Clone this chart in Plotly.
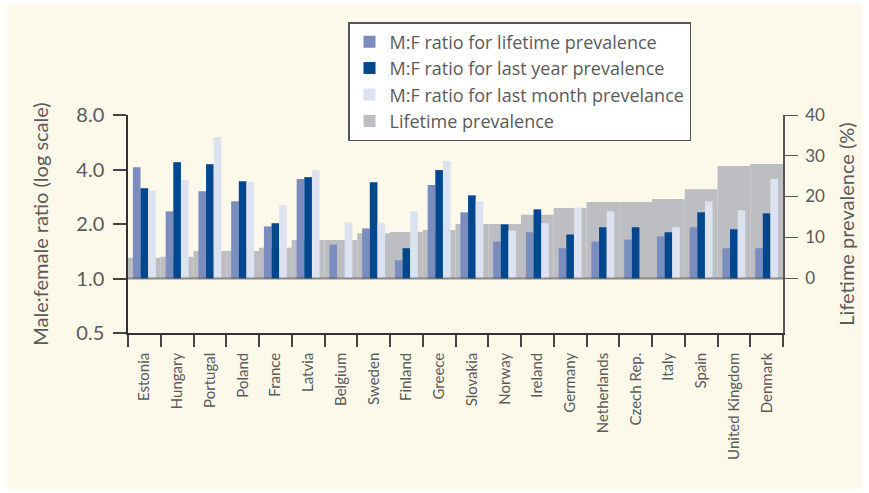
import plotly.graph_objects as go

countries = ['Estonia', 'Hungary', 'Portugal', 'Poland', 'France', 'Latvia',
             'Belgium', 'Sweden', 'Finland', 'Greece', 'Slovakia', 'Norway',
             'Ireland', 'Germany', 'Netherlands', 'Czech Rep.', 'Italy', 'Spain',
             'United Kingdom', 'Denmark']

# M:F ratios (log scale axis)
ratio_lifetime = [4.12, 2.35, 3.03, 2.67, 1.94, 3.54, 1.54, 1.89, 1.26, 3.28,
                  2.32, 1.60, 1.80, 1.47, 1.60, 1.64, 1.71, 1.92, 1.47, 1.47]
ratio_last_year = [3.15, 4.39, 4.28, 3.45, 2.02, 3.63, None, 3.40, 1.47, 3.97,
                   2.88, 1.99, 2.41, 1.75, 1.92, 1.92, 1.80, 2.32, 1.87, 2.29]
ratio_last_month = [3.07, 3.49, 6.04, 3.40, 2.54, 3.97, 2.04, 2.02, 2.35, 4.45,
                    2.67, 1.84, 2.02, 2.47, 2.35, None, 1.92, 2.67, 2.38, 3.54]

# lifetime prevalence (%)
prevalence = [5.0, 5.2, 6.6, 6.6, 7.4, 9.3, 9.3, 11.0, 11.3, 11.8,
              13.25, 13.25, 15.5, 17.2, 18.65, 18.65, 19.4, 21.8, 27.5, 28.0]

cream = '#FCF8EA'
txt = '#5a5a5a'
font_family = 'Lato, "Noto Sans", sans-serif'

c_life = '#7A8DBE'
c_year = '#00478D'
c_month = '#DCE2F0'
c_grey = '#BDBEC2'


def above_one(vals):
    # bars are drawn from a base of 1.0 on the log axis
    return [None if v is None else v - 1 for v in vals]


grey_trace = go.Bar(
    x=countries, y=prevalence, name='Lifetime prevalence',
    marker=dict(color=c_grey, line=dict(width=0)),
    width=1, yaxis='y', legendrank=4,
)

life_trace = go.Bar(
    x=countries, y=above_one(ratio_lifetime), base=1,
    name='M:F ratio for lifetime prevalence',
    marker=dict(color=c_life, line=dict(width=0)), yaxis='y2', legendrank=1,
)
year_trace = go.Bar(
    x=countries, y=above_one(ratio_last_year), base=1,
    name='M:F ratio for last year prevalence',
    marker=dict(color=c_year, line=dict(width=0)), yaxis='y2', legendrank=2,
)
month_trace = go.Bar(
    x=countries, y=above_one(ratio_last_month), base=1,
    name='M:F ratio for last month prevelance',
    marker=dict(color=c_month, line=dict(width=0)), yaxis='y2', legendrank=3,
)

# plot area in pixels: x 128..783, y 115..333
L, R, T, B = 128, 86, 115, 160
W, H = 869, 493
pw, ph = W - L - R, H - T - B

layout = go.Layout(
    width=W, height=H,
    margin=dict(l=L, r=R, t=T, b=B, pad=0, autoexpand=False),
    paper_bgcolor='white',
    plot_bgcolor='rgba(0,0,0,0)',
    font=dict(family=font_family, color=txt),
    barmode='group', bargap=0.3, bargroupgap=0,
    showlegend=True,
    legend=dict(
        x=(348 - L) / pw, y=(H - B - 22) / ph, xanchor='left', yanchor='top',
        bgcolor='white', bordercolor='#555555', borderwidth=1.5,
        font=dict(size=18, color=txt, family='"Open Sans", sans-serif'), tracegroupgap=0,
        traceorder='normal', itemsizing='constant',
    ),
    xaxis=dict(
        type='category', range=[-0.5, len(countries) - 0.5], automargin=False,
        showline=True, linecolor='#333333', linewidth=1.5,
        ticks='outside', ticklen=12, tickcolor='#444444', tickwidth=1.5,
        tickson='boundaries', tickangle=-90, ticklabelstandoff=12,
        tickfont=dict(size=15, color=txt), showgrid=False, zeroline=False,
    ),
    yaxis=dict(
        side='right', range=[-55 / 4.075, 40], automargin=False,
        tickvals=[0, 10, 20, 30, 40], ticktext=['0', '10', '20', '30', '40'],
        ticks='outside', ticklen=13, tickcolor='#555555', tickwidth=1.2,
        showline=True, linecolor='#555555', linewidth=1.5,
        tickfont=dict(size=17, color=txt), ticklabelstandoff=4,
        title=dict(text='Lifetime prevalence (%)', font=dict(size=20, color=txt), standoff=16),
        showgrid=False, zeroline=False,
    ),
    yaxis2=dict(
        type='log', overlaying='y', side='left', automargin=False,
        range=[-0.30103, 0.90309],
        tickvals=[0.5, 1, 2, 4, 8], ticktext=['0.5', '1.0', '2.0', '4.0', '8.0'],
        ticks='outside', ticklen=13, tickcolor='#444444', tickwidth=1.5,
        showline=True, linecolor='#333333', linewidth=1.5,
        tickfont=dict(size=20, color=txt), ticklabelstandoff=5,
        title=dict(text='Male:female ratio (log scale)', font=dict(size=20, color=txt), standoff=22),
        showgrid=False, zeroline=False,
    ),
    shapes=[
        # cream panel with a thin white frame
        dict(type='rect', xref='paper', yref='paper', layer='below',
             x0=(7 - L) / pw, x1=(862 - L) / pw,
             y0=(H - B - 489) / ph, y1=(H - B - 4) / ph,
             fillcolor=cream, line=dict(width=0)),
        # reference line at ratio 1.0
        dict(type='line', xref='paper', yref='y2', x0=0, x1=1, y0=1, y1=1,
             line=dict(color='rgba(70,70,70,0.6)', width=2), layer='above'),
    ],
)

fig = go.Figure(data=[grey_trace, life_trace, year_trace, month_trace], layout=layout)
fig.write_html("out.html", config={'displayModeBar': False},
               post_script="document.body.style.margin='0px';")
